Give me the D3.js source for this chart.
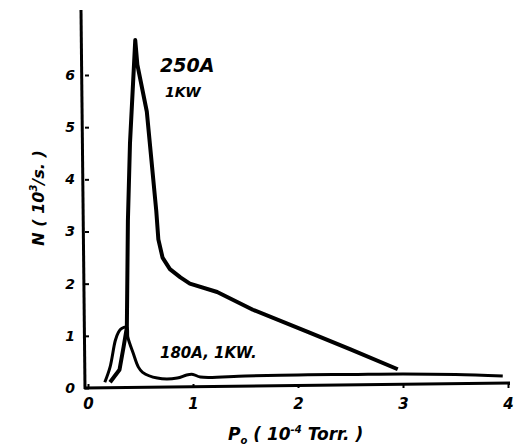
<!DOCTYPE html>
<html>
<head>
<meta charset="utf-8">
<script src="https://cdn.jsdelivr.net/npm/d3@7"></script>
<style>
  body { margin: 0; background: #fff; }
  svg text { font-family: "DejaVu Sans", sans-serif; font-style: italic; font-weight: bold; fill: #000; }
</style>
</head>
<body>
<div id="canvas"></div>
<script>
// pressure P0 (10^-4 Torr) vs count rate N (10^3/s)
const xTicks = [0, 1, 2, 3, 4];
const yTicks = [0, 1, 2, 3, 4, 5, 6];

const p250 = [0.21, 0.30, 0.34, 0.37, 0.38, 0.40, 0.45, 0.47, 0.56, 0.65, 0.67, 0.71, 0.78, 0.88, 0.97, 1.23, 1.57, 2.11, 2.50, 2.95];
const n250 = [0.11, 0.35, 0.80, 1.16, 3.20, 4.70, 6.67, 6.20, 5.30, 3.40, 2.85, 2.50, 2.28, 2.12, 2.00, 1.84, 1.50, 1.06, 0.74, 0.36];

const p180 = [0.16, 0.21, 0.26, 0.29, 0.32, 0.37, 0.38, 0.43, 0.48, 0.52, 0.66, 0.85, 0.94, 1.00, 1.07, 1.50, 2.00, 2.50, 3.00, 3.50, 3.95];
const n180 = [0.11, 0.40, 0.91, 1.07, 1.14, 1.16, 0.97, 0.67, 0.40, 0.30, 0.19, 0.19, 0.25, 0.26, 0.21, 0.23, 0.25, 0.26, 0.27, 0.26, 0.23];

const width = 514, height = 447;

const svg = d3.select('#canvas').append("svg")
    .attr("width", width)
    .attr("height", height);

const x = d3.scaleLinear().domain([0, 4]).range([88, 508]);
const y = d3.scaleLinear().domain([0, 6]).range([388, 75]);

// axes
const yAxisCall = d3.axisLeft(y)
    .tickValues(yTicks)
    .tickFormat(d3.format("d"))
    .tickSizeInner(-4)
    .tickSizeOuter(0)
    .tickPadding(10);
const yAxis = svg.append("g")
    .attr("transform", `translate(${x(0) - 3}, 0)`)
    .call(yAxisCall);
yAxis.select(".domain").remove();
yAxis.selectAll("line").attr("stroke-width", 2);
yAxis.selectAll("text")
    .style("font-size", "14px")
    .attr("font-family", null);

const xAxisCall = d3.axisBottom(x)
    .tickValues(xTicks)
    .tickFormat(d3.format("d"))
    .tickSizeInner(-4)
    .tickSizeOuter(0)
    .tickPadding(10);
const xAxis = svg.append("g")
    .attr("transform", `translate(0, ${y(0)})`)
    .call(xAxisCall);
xAxis.select(".domain").remove();
xAxis.selectAll("line").attr("stroke-width", 2);
xAxis.selectAll("text")
    .style("font-size", "15px")
    .attr("font-family", null);

svg.append("line")
    .attr("x1", x(0) - 3).attr("y1", y(0) + 1)
    .attr("x2", x(0) - 7).attr("y2", 10)
    .attr("stroke", "#000").attr("stroke-width", 3);
svg.append("line")
    .attr("x1", x(0) - 4).attr("y1", y(0))
    .attr("x2", x(4) + 2).attr("y2", y(0) - 5)
    .attr("stroke", "#000").attr("stroke-width", 3);

// curves
const smooth = d3.line()
    .x(d => x(d[0]))
    .y(d => y(d[1]))
    .curve(d3.curveCatmullRom.alpha(0.5));

const straight = d3.line()
    .x(d => x(d[0]))
    .y(d => y(d[1]));

svg.append("path")
    .datum(d3.zip(p180, n180))
    .attr("d", smooth)
    .attr("fill", "none")
    .attr("stroke", "#000")
    .attr("stroke-width", 3)
    .attr("stroke-linejoin", "round");

svg.append("path")
    .datum(d3.zip(p250, n250))
    .attr("d", straight)
    .attr("fill", "none")
    .attr("stroke", "#000")
    .attr("stroke-width", 4)
    .attr("stroke-linejoin", "round");

// labels
svg.append("text").attr("x", 160).attr("y", 72)
    .style("font-size", "19px").text("250A");
svg.append("text").attr("x", 165).attr("y", 97)
    .style("font-size", "14px").text("1KW");
svg.append("text").attr("x", 160).attr("y", 358)
    .style("font-size", "15px").text("180A, 1KW.");

const xt = svg.append("text").attr("x", 228).attr("y", 440)
    .style("font-size", "17px");
xt.append("tspan").text("P");
xt.append("tspan").attr("dy", 4).style("font-size", "10px").text("o");
xt.append("tspan").attr("dy", -4).text(" ( 10");
xt.append("tspan").attr("dy", -7).style("font-size", "10px").text("-4");
xt.append("tspan").attr("dy", 7).text(" Torr. )");

const yt = svg.append("text")
    .attr("transform", "translate(44, 198) rotate(-90)")
    .attr("text-anchor", "middle")
    .style("font-size", "16px");
yt.append("tspan").text("N ( 10");
yt.append("tspan").attr("dy", -7).style("font-size", "10px").text("3");
yt.append("tspan").attr("dy", 7).text("/s. )");
</script>
</body>
</html>
